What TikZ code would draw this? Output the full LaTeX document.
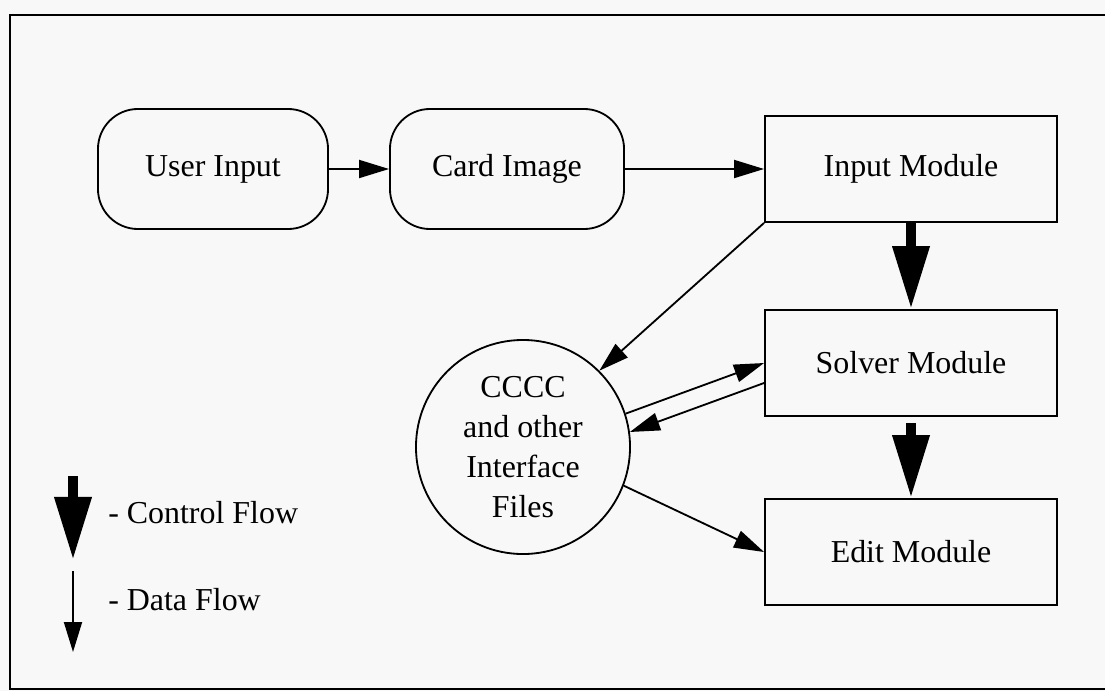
\documentclass[tikz,border=0pt]{standalone}
\usepackage{fontspec}
\setmainfont{Liberation Serif}
\usetikzlibrary{arrows.meta,calc}
\definecolor{paper}{RGB}{248,248,248}
\tikzset{
  >={Triangle[length=0.75cm,width=0.45cm]},
  every node/.style={font=\fontsize{22.7}{28.5}\selectfont},
  termbox/.style={
    rectangle,
    rounded corners=1cm,
    draw=black, line width=1.3pt,
    minimum height=3cm,
    text centered},
  modul/.style={
    rectangle,
    draw=black, line width=1.3pt,
    minimum width=7.3cm,
    minimum height=2.65cm,
    text centered},
  filecircle/.style={
    circle,
    draw=black, line width=1.3pt,
    minimum size=5.35cm,
    align=center},
  dataflow/.style={draw, line width=1.3pt, ->},
  ctrlflow/.style={draw, line width=0.25cm,
    -{Triangle[length=1.575cm,width=0.875cm]}},
}
\begin{document}
\begin{tikzpicture}[x=0.025cm,y=-0.025cm]
\fill[paper] (0,0) rectangle (1105,691);
\useasboundingbox (0,0) rectangle (1105,691);
\draw[line width=2pt] (1120,15) -- (10,15) -- (10,689) -- (1120,689);
% top row
\node[termbox, minimum width=5.75cm] (user) at (213,169) {User Input};
\node[termbox, minimum width=5.85cm] (card) at (507,169) {Card Image};
\node[modul] (input) at (911,169) {Input Module};
% modules and files
\node[modul] (solver) at (911,363) {Solver Module};
\node[modul] (edit) at (911,552) {Edit Module};
\node[filecircle] (files) at (523,447) {CCCC\\and other\\Interface\\Files};
% data flow
\draw[dataflow] (user) -- (card);
\draw[dataflow] (card) -- (input);
\draw[dataflow] (input.south west) -- (files.45);
\draw[dataflow] (files.18) -- (solver.west);
\draw[dataflow] ([yshift=-0.5cm]solver.west) -- (files.8);
\draw[dataflow] (files.-21) -- (edit.west);
% control flow
\draw[ctrlflow] (input) -- (solver);
\draw[ctrlflow, shorten <=0.15cm] (solver) -- (edit);
% legend
\coordinate (ctop) at (73,476);
\coordinate (cend) at (73,560);
\coordinate (dtop) at (73,571);
\coordinate (dend) at (73,652);
\draw[ctrlflow] (ctop) -- (cend);
\draw[dataflow] (dtop) -- (dend);
\node[anchor=west, inner sep=0pt] (ctrltxt) at (108,513) {- Control Flow};
\node[anchor=west, inner sep=0pt] (datatxt) at (108,600) {- Data Flow};
\end{tikzpicture}
\end{document}
